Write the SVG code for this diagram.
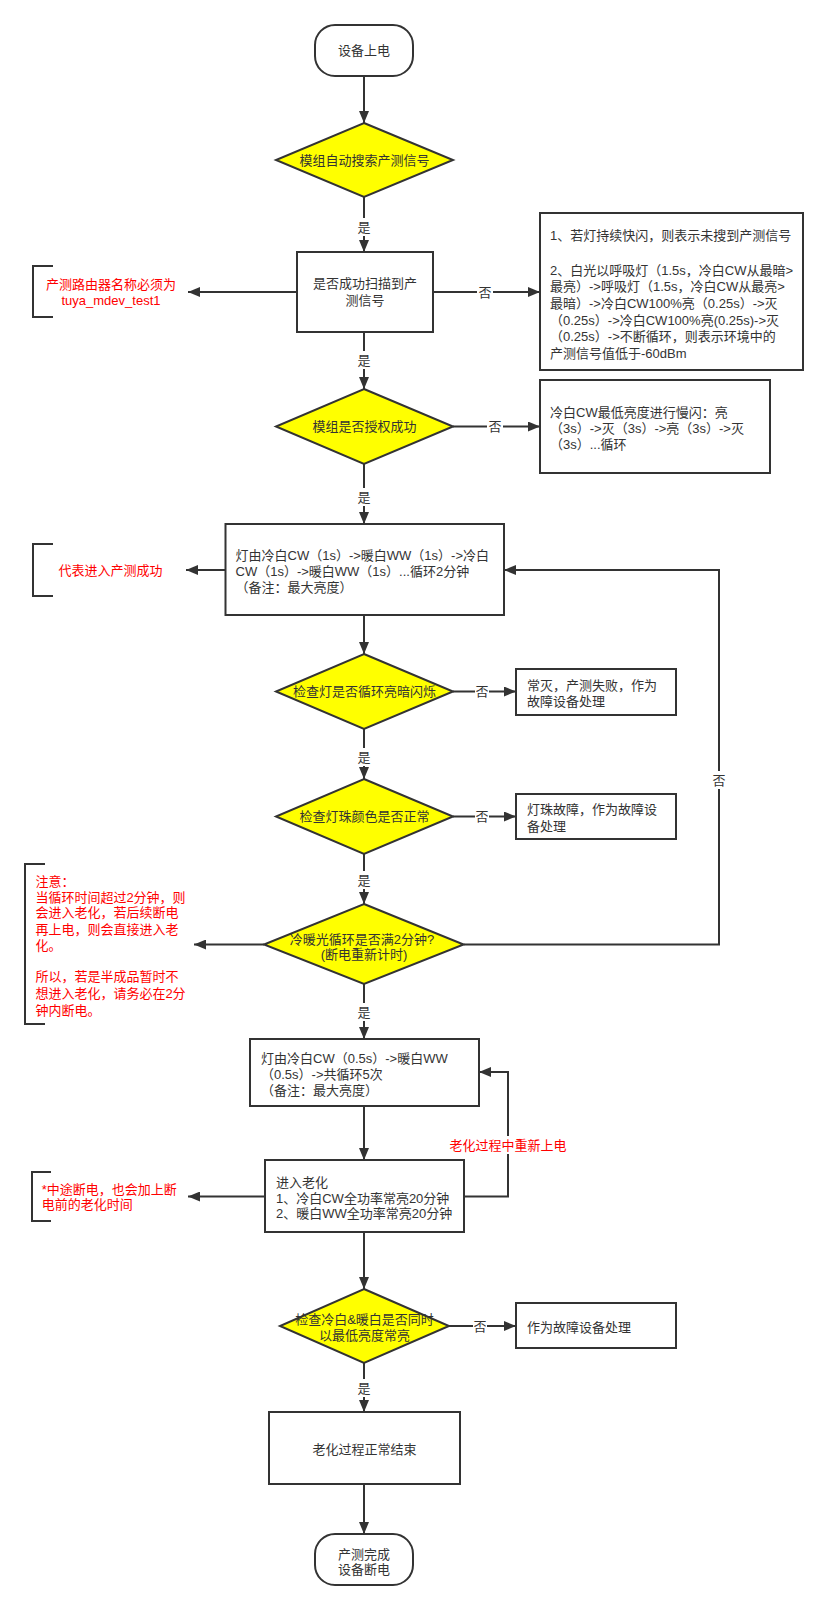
<svg xmlns="http://www.w3.org/2000/svg" width="829" height="1610" viewBox="0 0 829 1610">
<defs>
<marker id="arr" markerUnits="userSpaceOnUse" markerWidth="13" markerHeight="10" refX="12" refY="5" orient="auto">
<path d="M0,0 L12,5 L0,10 Z" fill="#333"/>
</marker>
<style>
text{font-family:"Liberation Sans","Noto Sans CJK SC",sans-serif;font-size:13px;fill:#333}
.c{text-anchor:middle}
.r{fill:#ff0000}
.box{fill:#fff;stroke:#333;stroke-width:2}
.dia{fill:#ffff00;stroke:#333;stroke-width:2}
.ln{fill:none;stroke:#333;stroke-width:2}
.ar{fill:none;stroke:#333;stroke-width:2;marker-end:url(#arr)}
.bg{fill:#fff}
</style>
</defs>
<rect width="829" height="1610" fill="#fff"/>

<g id="connectors">
<line class="ar" x1="364" y1="76" x2="364" y2="123"/>
<line class="ar" x1="364" y1="197" x2="364" y2="252"/>
<line class="ar" x1="297" y1="292" x2="188" y2="292"/>
<line class="ar" x1="433" y1="292" x2="540" y2="292"/>
<line class="ar" x1="364" y1="332" x2="364" y2="389"/>
<line class="ar" x1="453" y1="426.5" x2="540" y2="426.5"/>
<line class="ar" x1="364" y1="464" x2="364" y2="524"/>
<line class="ar" x1="225.5" y1="570" x2="186" y2="570"/>
<polyline class="ar" points="463.6,944.5 719,944.5 719,570 504,570"/>
<line class="ar" x1="364" y1="615" x2="364" y2="654"/>
<line class="ar" x1="453" y1="691.5" x2="516" y2="691.5"/>
<line class="ar" x1="364" y1="729" x2="364" y2="779"/>
<line class="ar" x1="453" y1="816.5" x2="516" y2="816.5"/>
<line class="ar" x1="364" y1="854" x2="364" y2="904"/>
<line class="ar" x1="264" y1="944.5" x2="194" y2="944.5"/>
<line class="ar" x1="364" y1="984" x2="364" y2="1039"/>
<line class="ar" x1="364" y1="1106" x2="364" y2="1160"/>
<line class="ar" x1="265" y1="1196.5" x2="188" y2="1196.5"/>
<polyline class="ar" points="464,1196.5 508,1196.5 508,1072 479,1072"/>
<line class="ar" x1="364" y1="1232" x2="364" y2="1289"/>
<line class="ar" x1="449" y1="1326" x2="516" y2="1326"/>
<line class="ar" x1="364" y1="1363" x2="364" y2="1412"/>
<line class="ar" x1="364" y1="1484" x2="364" y2="1534"/>

<rect class="bg" x="357" y="218" width="14" height="18"/><text class="c" x="364" y="231.5">是</text>
<rect class="bg" x="477" y="283" width="16" height="18"/><text class="c" x="485" y="296.5">否</text>
<rect class="bg" x="357" y="351" width="14" height="18"/><text class="c" x="364" y="364.5">是</text>
<rect class="bg" x="487" y="417.5" width="16" height="18"/><text class="c" x="495" y="431">否</text>
<rect class="bg" x="357" y="488" width="14" height="18"/><text class="c" x="364" y="501.5">是</text>
<rect class="bg" x="712" y="771" width="14" height="18"/><text class="c" x="719" y="784.5">否</text>
<rect class="bg" x="475" y="682.5" width="14" height="18"/><text class="c" x="482" y="696">否</text>
<rect class="bg" x="357" y="748" width="14" height="18"/><text class="c" x="364" y="761.5">是</text>
<rect class="bg" x="475" y="807.5" width="14" height="18"/><text class="c" x="482" y="821">否</text>
<rect class="bg" x="357" y="871" width="14" height="18"/><text class="c" x="364" y="884.5">是</text>
<rect class="bg" x="357" y="1003" width="14" height="18"/><text class="c" x="364" y="1016.5">是</text>
<rect class="bg" x="449" y="1136" width="118" height="18"/><text class="c r" x="508" y="1149.5">老化过程中重新上电</text>
<rect class="bg" x="473" y="1317" width="14" height="18"/><text class="c" x="480" y="1330.5">否</text>
<rect class="bg" x="357" y="1379" width="14" height="18"/><text class="c" x="364" y="1392.5">是</text>
</g>

<g id="start">
<rect class="box" x="315" y="25" width="98" height="51" rx="20" ry="20"/>
<text class="c" x="364" y="55">设备上电</text>
</g>

<g id="d1">
<polygon class="dia" points="364,123 453,160 364,197 276,160"/>
<text class="c" x="364.5" y="164.5">模组自动搜索产测信号</text>
</g>

<g id="scan">
<rect class="box" x="297" y="252" width="136" height="80"/>
<text class="c" x="365" y="288">是否成功扫描到产</text>
<text class="c" x="365" y="305">测信号</text>
</g>

<g id="note-router">
<path class="ln" d="M53,266 H33 V317 H53"/>
<text class="c r" x="111" y="288.5">产测路由器名称必须为</text>
<text class="c r" x="111" y="304.5">tuya_mdev_test1</text>
</g>

<g id="scan-fail">
<rect class="box" x="540" y="213" width="263" height="157"/>
<text x="550" y="239.5">1、若灯持续快闪，则表示未搜到产测信号</text>
<text x="550" y="274.5">2、白光以呼吸灯（1.5s，冷白CW从最暗&gt;</text>
<text x="550" y="291">最亮）-&gt;呼吸灯（1.5s，冷白CW从最亮&gt;</text>
<text x="550" y="307.5">最暗）-&gt;冷白CW100%亮（0.25s）-&gt;灭</text>
<text x="550" y="324.5">（0.25s）-&gt;冷白CW100%亮(0.25s)-&gt;灭</text>
<text x="550" y="341">（0.25s）-&gt;不断循环，则表示环境中的</text>
<text x="550" y="357.5">产测信号值低于-60dBm</text>
</g>

<g id="d2">
<polygon class="dia" points="364,389 453,426.5 364,464 276,426.5"/>
<text class="c" x="364.5" y="431">模组是否授权成功</text>
</g>

<g id="auth-fail">
<rect class="box" x="540" y="380" width="230" height="93"/>
<text x="550" y="416.5">冷白CW最低亮度进行慢闪：亮</text>
<text x="550" y="432.5">（3s）-&gt;灭（3s）-&gt;亮（3s）-&gt;灭</text>
<text x="550" y="448.5">（3s）...循环</text>
</g>

<g id="cycle1">
<rect class="box" x="225.5" y="524" width="278.5" height="91"/>
<text x="235.5" y="559.5">灯由冷白CW（1s）-&gt;暖白WW（1s）-&gt;冷白</text>
<text x="235.5" y="575.5">CW（1s）-&gt;暖白WW（1s）...循环2分钟</text>
<text x="235.5" y="592">（备注：最大亮度）</text>
</g>

<g id="note-success">
<path class="ln" d="M53,544 H33 V596 H53"/>
<text class="c r" x="110.5" y="574.5">代表进入产测成功</text>
</g>

<g id="d3">
<polygon class="dia" points="364,654 453,691.5 364,729 276,691.5"/>
<text class="c" x="364.5" y="696">检查灯是否循环亮暗闪烁</text>
</g>

<g id="fail1">
<rect class="box" x="516" y="669" width="160" height="46"/>
<text x="527" y="689.5">常灭，产测失败，作为</text>
<text x="527" y="705.5">故障设备处理</text>
</g>

<g id="d4">
<polygon class="dia" points="364,779 453,816.5 364,854 276,816.5"/>
<text class="c" x="364.5" y="821">检查灯珠颜色是否正常</text>
</g>

<g id="fail2">
<rect class="box" x="516" y="794" width="160" height="45"/>
<text x="527" y="813.5">灯珠故障，作为故障设</text>
<text x="527" y="830.5">备处理</text>
</g>

<g id="d5">
<polygon class="dia" points="364,904 463.6,944.5 364,984 264,944.5"/>
<text class="c" x="362" y="943.5">冷暖光循环是否满2分钟?</text>
<text class="c" x="364" y="958.5">(断电重新计时)</text>
</g>

<g id="note-attention">
<path class="ln" d="M45,864 H25 V1024 H45"/>
<text class="r" x="35.4" y="885.5">注意：</text>
<text class="r" x="35.4" y="901.5">当循环时间超过2分钟，则</text>
<text class="r" x="35.4" y="917">会进入老化，若后续断电</text>
<text class="r" x="35.4" y="933.5">再上电，则会直接进入老</text>
<text class="r" x="35.4" y="949.5">化。</text>
<text class="r" x="35.4" y="980.5">所以，若是半成品暂时不</text>
<text class="r" x="35.4" y="997.5">想进入老化，请务必在2分</text>
<text class="r" x="35.4" y="1014.5">钟内断电。</text>
</g>

<g id="cycle2">
<rect class="box" x="250" y="1039" width="229" height="67"/>
<text x="261" y="1062.5">灯由冷白CW（0.5s）-&gt;暖白WW</text>
<text x="261" y="1078.5">（0.5s）-&gt;共循环5次</text>
<text x="261" y="1094.5">（备注：最大亮度）</text>
</g>

<g id="aging">
<rect class="box" x="265" y="1160" width="199" height="72"/>
<text x="276" y="1186.5">进入老化</text>
<text x="276" y="1202.5">1、冷白CW全功率常亮20分钟</text>
<text x="276" y="1217.5">2、暖白WW全功率常亮20分钟</text>
</g>

<g id="note-aging">
<path class="ln" d="M51,1172 H32 V1221 H51"/>
<text class="r" x="41.7" y="1193.5">*中途断电，也会加上断</text>
<text class="r" x="41.7" y="1208.5">电前的老化时间</text>
</g>

<g id="d6">
<polygon class="dia" points="364,1289 449,1326 364,1363 280,1326"/>
<text class="c" x="364.5" y="1323.5">检查冷白&amp;暖白是否同时</text>
<text class="c" x="364.5" y="1339.5">以最低亮度常亮</text>
</g>

<g id="fail3">
<rect class="box" x="516" y="1303" width="160" height="45"/>
<text x="527" y="1331.5">作为故障设备处理</text>
</g>

<g id="aging-end">
<rect class="box" x="269" y="1412" width="191" height="72"/>
<text class="c" x="364.5" y="1453.5">老化过程正常结束</text>
</g>

<g id="end">
<rect class="box" x="315" y="1534" width="98" height="51" rx="20" ry="20"/>
<text class="c" x="364" y="1558.5">产测完成</text>
<text class="c" x="364" y="1573.5">设备断电</text>
</g>
</svg>
